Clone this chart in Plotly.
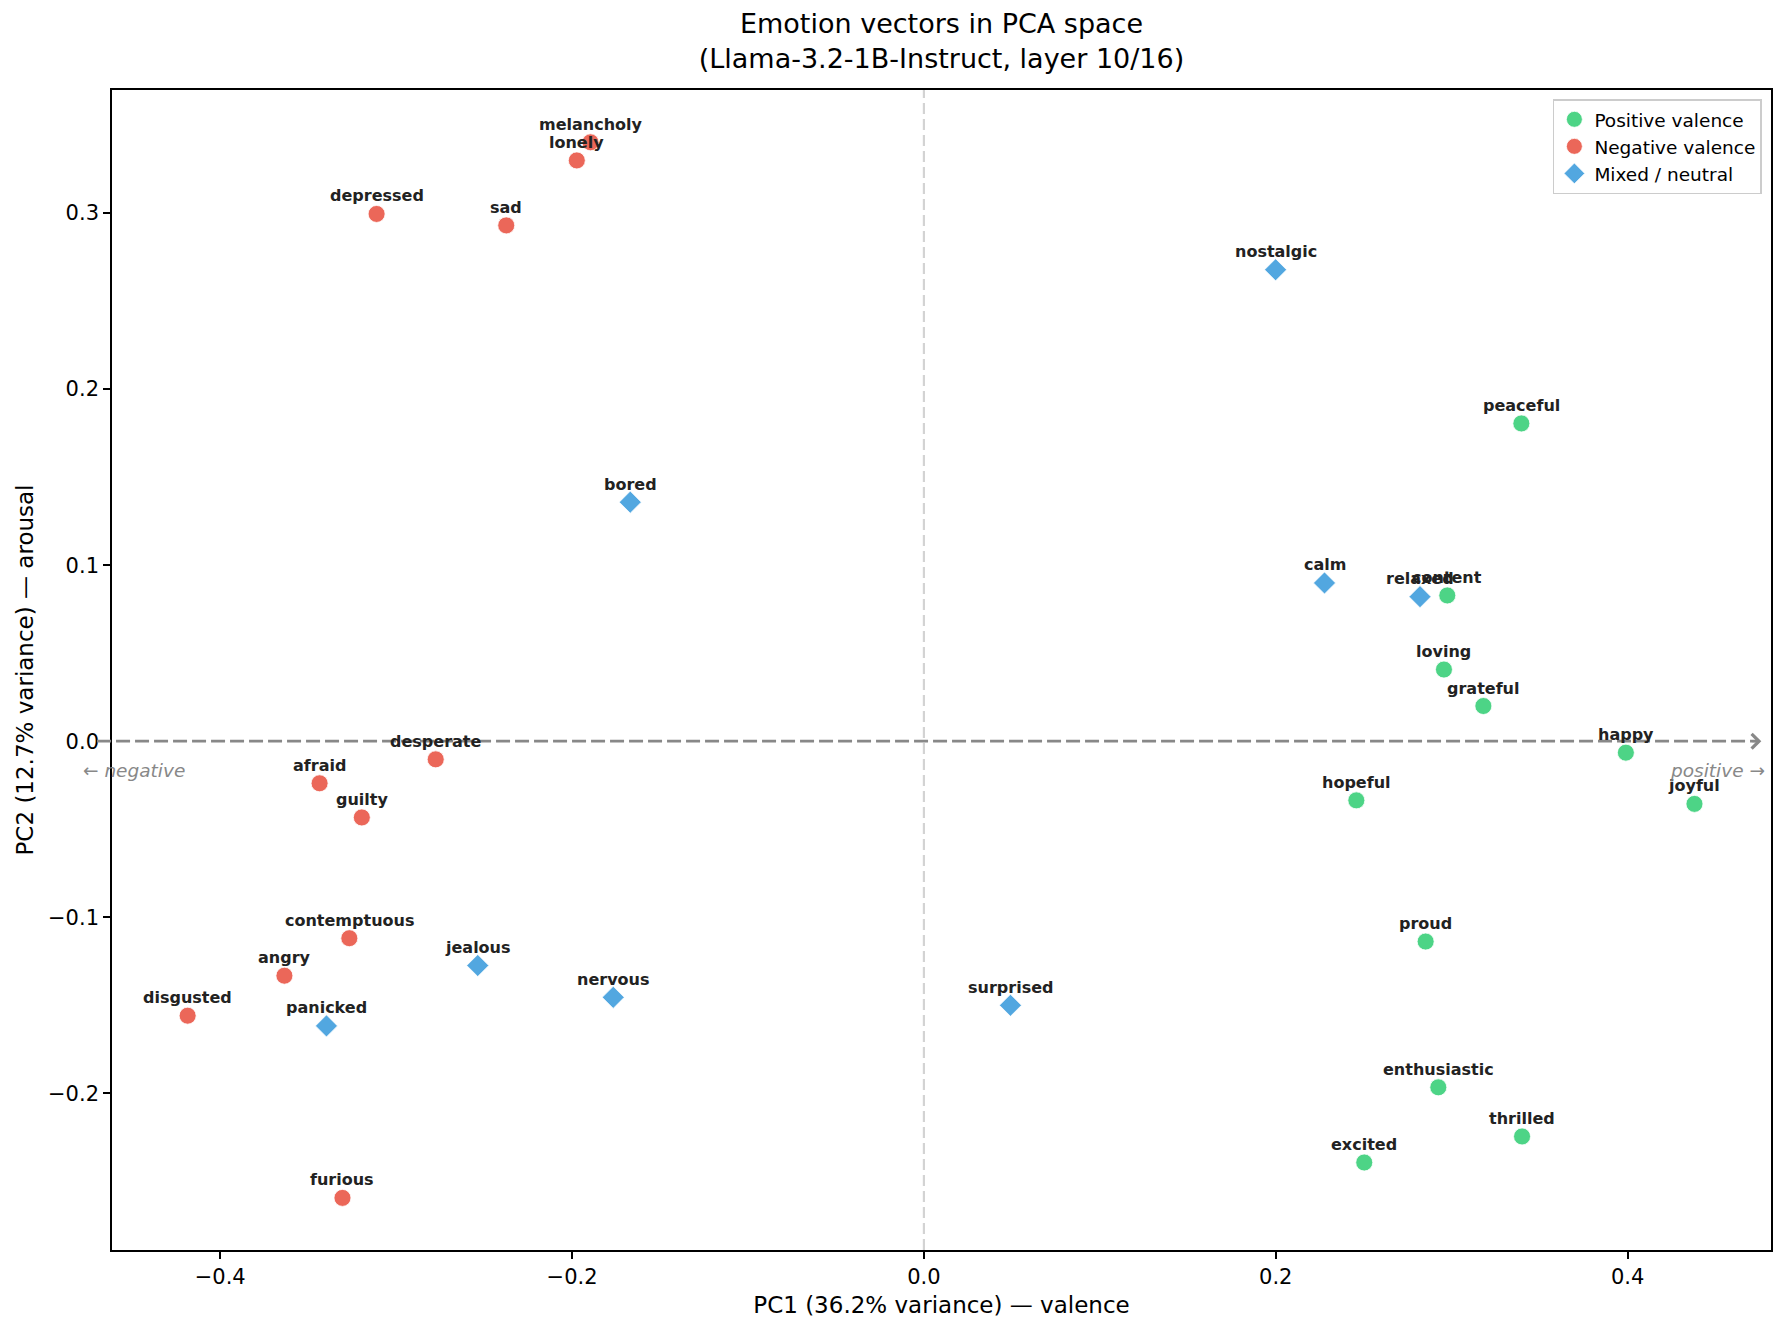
import plotly.graph_objects as go

# ---------------- data ----------------
pos_labels = ["peaceful", "content", "loving", "grateful", "happy", "joyful",
              "hopeful", "proud", "enthusiastic", "thrilled", "excited"]
pos_x = [0.3396, 0.2975, 0.2956, 0.3180, 0.3990, 0.4380,
         0.2458, 0.2852, 0.2924, 0.3400, 0.2503]
pos_y = [0.1805, 0.0828, 0.0407, 0.0200, -0.0065, -0.0356,
         -0.0336, -0.1138, -0.1966, -0.2245, -0.2393]

neg_labels = ["melancholy", "lonely", "depressed", "sad", "desperate", "afraid",
              "guilty", "contemptuous", "angry", "disgusted", "furious"]
neg_x = [-0.1895, -0.1973, -0.3111, -0.2374, -0.2775, -0.3435,
         -0.3195, -0.3266, -0.3635, -0.4185, -0.3305]
neg_y = [0.3402, 0.3299, 0.2995, 0.2930, -0.0103, -0.0239,
         -0.0433, -0.1119, -0.1332, -0.1559, -0.2594]

mix_labels = ["nostalgic", "bored", "calm", "relaxed", "jealous", "nervous",
              "panicked", "surprised"]
mix_x = [0.1999, -0.1669, 0.2277, 0.2820, -0.2536, -0.1766, -0.3396, 0.0492]
mix_y = [0.2678, 0.1358, 0.0899, 0.0821, -0.1274, -0.1455, -0.1617, -0.1500]

x_ticks = [-0.4, -0.2, 0.0, 0.2, 0.4]
y_ticks = [-0.2, -0.1, 0.0, 0.1, 0.2, 0.3]
x_range = [-0.4615, 0.4815]
y_range = [-0.289, 0.3699]

FONT = "DejaVu Sans"
GREEN = "rgba(46,204,113,0.85)"
RED = "rgba(231,76,60,0.85)"
BLUE = "rgba(52,152,219,0.85)"


def to_paper_x(v):
    return (v - x_range[0]) / (x_range[1] - x_range[0])


fig = go.Figure()

groups = [
    ("Positive valence", pos_x, pos_y, pos_labels, GREEN, "circle", 17),
    ("Negative valence", neg_x, neg_y, neg_labels, RED, "circle", 17),
    ("Mixed / neutral", mix_x, mix_y, mix_labels, BLUE, "diamond", 17),
]

for name, xs, ys, labs, col, sym, sz in groups:
    fig.add_trace(go.Scatter(
        x=xs, y=ys, mode="markers", name=name,
        marker=dict(color=col, symbol=sym, size=sz,
                    line=dict(color="white", width=0.8)),
    ))

annotations = []
for name, xs, ys, labs, col, sym, sz in groups:
    for xv, yv, lab in zip(xs, ys, labs):
        annotations.append(dict(
            x=xv, y=yv, xref="x", yref="y", text="<b>" + lab + "</b>",
            showarrow=False, xanchor="center", yanchor="middle", yshift=18,
            font=dict(family=FONT, size=16, color="#222222"),
        ))

# arrowhead at the positive end of the valence axis
annotations.append(dict(
    x=0.476, y=0, ax=0.470, ay=0, xref="x", yref="y", axref="x", ayref="y",
    showarrow=True, arrowhead=4, arrowsize=1.3, arrowwidth=2.2,
    arrowcolor="#888888", text="", standoff=0,
))
annotations.append(dict(
    x=to_paper_x(-0.4794), y=-0.0168, xref="paper", yref="y",
    text="<i>← negative</i>",
    showarrow=False, xanchor="left", yanchor="middle",
    font=dict(family=FONT, size=18.5, color="#888888"),
))
annotations.append(dict(
    x=0.4794, y=-0.0168, xref="x", yref="y", text="<i>positive →</i>",
    showarrow=False, xanchor="right", yanchor="middle",
    font=dict(family=FONT, size=18.5, color="#888888"),
))

shapes = [
    dict(type="line", xref="x", yref="paper", x0=0, x1=0, y0=0, y1=1,
         line=dict(color="#d3d3d3", width=2.2, dash="11px,5px"), layer="below"),
    dict(type="line", xref="paper", yref="y",
         x0=to_paper_x(-0.470), x1=to_paper_x(0.474),
         y0=0, y1=0,
         line=dict(color="#888888", width=2.8, dash="14px,5px"), layer="above"),
]

fig.update_layout(
    width=1785, height=1332,
    margin=dict(l=112, r=14, t=90, b=82),
    paper_bgcolor="white", plot_bgcolor="white",
    font=dict(family=FONT, size=21, color="black"),
    title=dict(
        text="Emotion vectors in PCA space<br>(Llama-3.2-1B-Instruct, layer 10/16)",
        x=0.5, xref="paper", xanchor="center",
        y=1 - 33 / 1332, yref="container", yanchor="middle",
        font=dict(family=FONT, size=27, color="black"),
    ),
    showlegend=True,
    legend=dict(
        x=0.9945, y=0.992, xanchor="right", yanchor="top",
        bgcolor="white", bordercolor="#cccccc", borderwidth=1.5,
        font=dict(family=FONT, size=18.5, color="black"),
        tracegroupgap=0,
    ),
    annotations=annotations,
    shapes=shapes,
)

fig.update_xaxes(
    range=x_range, tickvals=x_ticks, tickformat=".1f",
    showgrid=False, zeroline=False,
    showline=True, linecolor="black", linewidth=1.6, mirror=True,
    ticks="outside", ticklen=7, tickwidth=1.6, tickcolor="black",
    tickfont=dict(family=FONT, size=21, color="black"),
    title=dict(text="PC1 (36.2% variance) — valence",
               font=dict(family=FONT, size=23, color="black"), standoff=9),
)
fig.update_yaxes(
    range=y_range, tickvals=y_ticks, tickformat=".1f",
    showgrid=False, zeroline=False,
    showline=True, linecolor="black", linewidth=1.6, mirror=True,
    ticks="outside", ticklen=7, tickwidth=1.6, tickcolor="black",
    tickfont=dict(family=FONT, size=21, color="black"),
    title=dict(text="PC2 (12.7% variance) — arousal",
               font=dict(family=FONT, size=23, color="black"), standoff=8),
)

fig.write_html("out.html")
